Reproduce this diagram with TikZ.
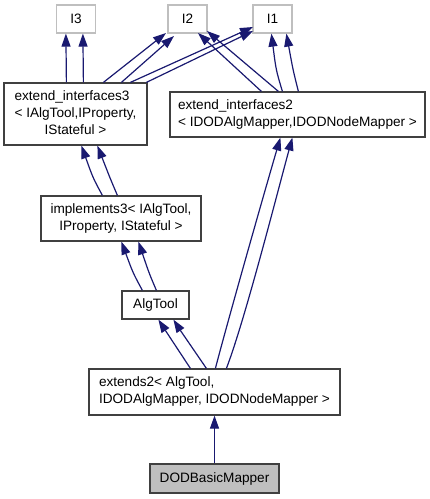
\documentclass[tikz,border=0pt]{standalone}
\usepackage{fontspec}
\setmainfont{Liberation Sans}
\usetikzlibrary{arrows.meta,calc}
\definecolor{edgec}{HTML}{191970}
\definecolor{greyb}{HTML}{BFBFBF}
\definecolor{boxb}{HTML}{404040}
\tikzset{
  cls/.style={draw=boxb, line width=1.2bp, rectangle, inner sep=0pt, text=black,
    font=\fontsize{13.6bp}{17bp}\selectfont},
  iface/.style={cls, draw=greyb},
  cur/.style={cls, fill=greyb},
  inh/.style={draw=edgec, line width=1.2bp, -{Triangle[length=13bp,width=9bp]}, color=edgec},
}
\begin{document}
\begin{tikzpicture}[x=1bp,y=-1bp]
\useasboundingbox (0,0) rectangle (429,499);
\node[iface, minimum width=39bp, minimum height=28bp] (I3) at (76,19) {I3};
\node[iface, minimum width=39bp, minimum height=28bp] (I2) at (187.5,19) {I2};
\node[iface, minimum width=39bp, minimum height=28bp] (I1) at (272.5,19) {I1};
\node[cls, minimum width=143bp, minimum height=62bp] (ei3) at (75.5,114)
  {\begin{tabular}{@{}l@{}}extend\_interfaces3\\ < IAlgTool,IProperty,\\ \multicolumn{1}{@{}c@{}}{IStateful >}\end{tabular}};
\node[cls, minimum width=255bp, minimum height=45bp] (ei2) at (297.5,114.5)
  {\begin{tabular}{@{}l@{}}extend\_interfaces2\\ \multicolumn{1}{@{}c@{}}{< IDODAlgMapper,IDODNodeMapper >}\end{tabular}};
\node[cls, minimum width=160bp, minimum height=45bp] (imp) at (121,218.5)
  {\begin{tabular}{@{}c@{}}implements3< IAlgTool,\\ IProperty, IStateful >\end{tabular}};
\node[cls, minimum width=67bp, minimum height=28bp] (alg) at (155.5,305) {AlgTool};
\node[cls, minimum width=251bp, minimum height=46bp] (ext) at (214.5,392)
  {\begin{tabular}{@{}l@{}}extends2< AlgTool,\\ \multicolumn{1}{@{}c@{}}{IDODAlgMapper, IDODNodeMapper >}\end{tabular}};
\node[cur, minimum width=129bp, minimum height=29bp] (dod) at (214.5,478.5) {DODBasicMapper};

% ei3 -> I3
\draw[inh] ($(ei3.north west)+(63,0)$) -- ($(I3.south west)+(10,0)$);
\draw[inh] ($(ei3.north west)+(80,0)$) -- ($(I3.south west)+(27,0)$);
% ei3 -> I2
\draw[inh] ($(ei3.north west)+(100,0)$) -- (166,33);
\draw[inh] ($(ei3.north west)+(118,0)$) -- (174,36);
% ei3 -> I1
\draw[inh] ($(ei3.north west)+(127,0)$) -- (253,27);
\draw[inh] ($(ei3.north west)+(143,0)$) -- (253,31);
% ei2 -> I2
\draw[inh] ($(ei2.north west)+(92,0)$) -- (198,33);
\draw[inh] ($(ei2.north west)+(109,0)$) -- (207,31);
% ei2 -> I1
\draw[inh] ($(ei2.north west)+(113,0)$) .. controls (276,70) .. ($(I1.south west)+(19,0)$);
\draw[inh] ($(ei2.north west)+(129,0)$) .. controls (293,70) .. ($(I1.south west)+(34,0)$);
% imp -> ei3
\draw[inh] ($(imp.north west)+(62,0)$) .. controls (93,178) .. ($(ei3.south west)+(78,0)$);
\draw[inh] ($(imp.north west)+(77,0)$) .. controls (110,178) .. ($(ei3.south west)+(94,0)$);
% alg -> imp
\draw[inh] ($(alg.north west)+(21,0)$) .. controls (133,273) .. ($(imp.south west)+(81,0)$);
\draw[inh] ($(alg.north west)+(35,0)$) .. controls (149,273) .. ($(imp.south west)+(98,0)$);
% ext -> alg
\draw[inh] ($(ext.north west)+(102,0)$) .. controls (178,350) .. ($(alg.south west)+(37,0)$);
\draw[inh] ($(ext.north west)+(118,0)$) .. controls (193,350) .. ($(alg.south west)+(52,0)$);
% ext -> ei2
\draw[inh] ($(ext.north west)+(127,0)$) .. controls (228,320) and (265,190) .. ($(ei2.south west)+(111,0)$);
\draw[inh] ($(ext.north west)+(138,0)$) .. controls (245,320) and (278,190) .. ($(ei2.south west)+(123,0)$);
% dod -> ext
\draw[inh] (dod) -- (ext);
\end{tikzpicture}
\end{document}
